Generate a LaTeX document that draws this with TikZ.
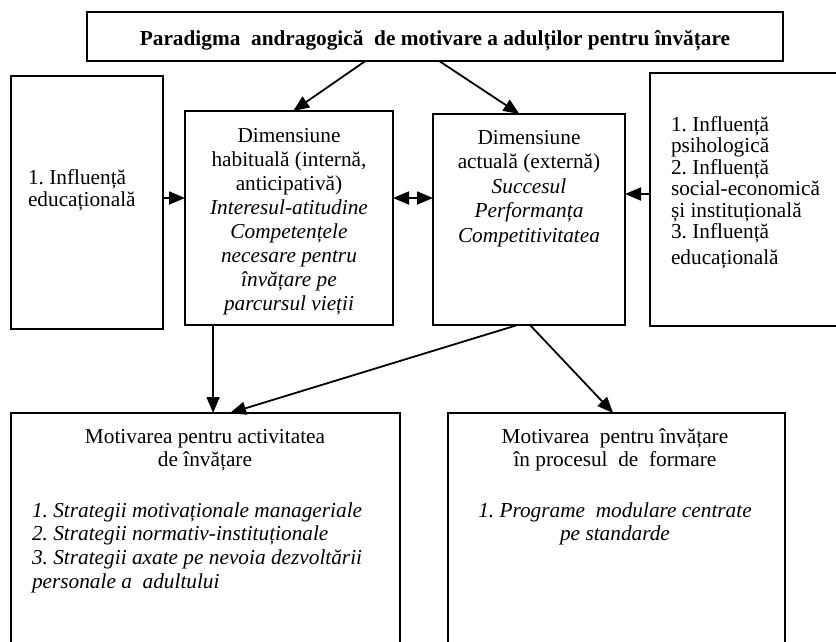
\documentclass[tikz,border=0pt]{standalone}
\usepackage{fontspec}
\setmainfont{Liberation Serif}
\usetikzlibrary{arrows.meta,calc}
\newcommand\fsz[1]{\fontsize{21.3}{#1}\selectfont}
\frenchspacing
\begin{document}
\frenchspacing
\begin{tikzpicture}[x=1pt,y=-1pt,
  box/.style={draw, line width=1.7pt, anchor=north west, inner sep=0pt, outer sep=0pt},
  arr/.style={line width=1.8pt, -{Triangle[length=16pt,width=13pt]}},
  dbl/.style={line width=1.8pt, {Triangle[length=16pt,width=13pt]}-{Triangle[length=16pt,width=13pt]}},
  txt/.style={inner sep=0pt, outer sep=0pt}]
\useasboundingbox (0,0) rectangle (836,641);
\clip (0,0) rectangle (836,641);
% boxes
\node[box, minimum width=696pt, minimum height=49pt] (T) at (87,12) {};
\node[box, minimum width=152pt, minimum height=253pt] (L) at (11,76) {};
\node[box, minimum width=208pt, minimum height=214pt] (H) at (185,111) {};
\node[box, minimum width=192pt, minimum height=211pt] (A) at (433,114) {};
\node[box, minimum width=220pt, minimum height=253pt] (R) at (650,73) {};
\node[box, minimum width=389pt, minimum height=260pt] (BL) at (11,413) {};
\node[box, minimum width=337pt, minimum height=260pt] (BR) at (448,413) {};
% texts
\node[txt, anchor=base, font=\fsz{24}\bfseries] (tt) at (435,45)
  {Paradigma\ \ andragogică\ \ de motivare a adulților pentru învățare};
\node[txt, anchor=base west] (lt) at (28,184)
  {\parbox[t]{130pt}{\raggedright\fsz{22}1. Influență\\educațională}};
\node[txt, anchor=base] (ht) at (289,142)
  {\parbox[t]{204pt}{\centering\fsz{24}Dimensiune\\habituală (internă,\\anticipativă)\\
   \textit{Interesul-atitudine}\\\textit{Competențele}\\\textit{necesare pentru}\\
   \textit{învățare pe}\\\textit{parcursul vieții}}};
\node[txt, anchor=base] (at) at (529,144)
  {\parbox[t]{188pt}{\centering\fsz{24.5}Dimensiune\\actuală (externă)\\
   \textit{Succesul}\\\textit{Performanța}\\\textit{Competitivitatea}}};
\node[txt, anchor=base west] (rt) at (671,131)
  {\parbox[t]{165pt}{\raggedright\fsz{21.5}1. Influență\\psihologică\\2. Influență\\
   social-economică\\și instituțională\\3. Influență\\[4pt]educațională}};
\node[txt, anchor=base] (blt) at (205,443)
  {\parbox[t]{380pt}{\centering\fsz{23.7}Motivarea pentru activitatea\\de învățare}};
\node[txt, anchor=base west] (bll) at (32,517)
  {\parbox[t]{365pt}{\raggedright\itshape\fsz{23.7}1. Strategii motivaționale manageriale\\
   2. Strategii normativ-instituționale\\3. Strategii axate pe nevoia dezvoltării\\
   personale a\ \ adultului}};
\node[txt, anchor=base] (brt) at (615,443)
  {\parbox[t]{330pt}{\centering\fsz{23.7}Motivarea\ \ pentru învățare\\în procesul\ \ de\ \ formare}};
\node[txt, anchor=base] (brl) at (615,517)
  {\parbox[t]{330pt}{\centering\itshape\fsz{23.7}1. Programe\ \ modulare centrate\\pe standarde}};
% connectors
\coordinate (ya) at (0,198);
\coordinate (yb) at (0,194);
\draw[arr] ($(T.south west)!0.40!(T.south east)$) -- ($(H.north west)!0.52!(H.north east)$);
\draw[arr] ($(T.south west)!0.506!(T.south east)$) -- ($(A.north west)!0.45!(A.north east)$);
\draw[arr] (L.east |- ya) -- (H.west |- ya);
\draw[dbl] (H.east |- ya) -- (A.west |- ya);
\draw[arr] (R.west |- yb) -- (A.east |- yb);
\coordinate (hb) at ($(H.south west)!0.135!(H.south east)$);
\draw[arr] (hb) -- (hb |- BL.north);
\draw[arr] ($(A.south west)!0.44!(A.south east)$) -- ($(BL.north west)!0.563!(BL.north east)$);
\draw[arr] ($(A.south west)!0.505!(A.south east)$) -- ($(BR.north west)!0.49!(BR.north east)$);
\end{tikzpicture}
\end{document}
